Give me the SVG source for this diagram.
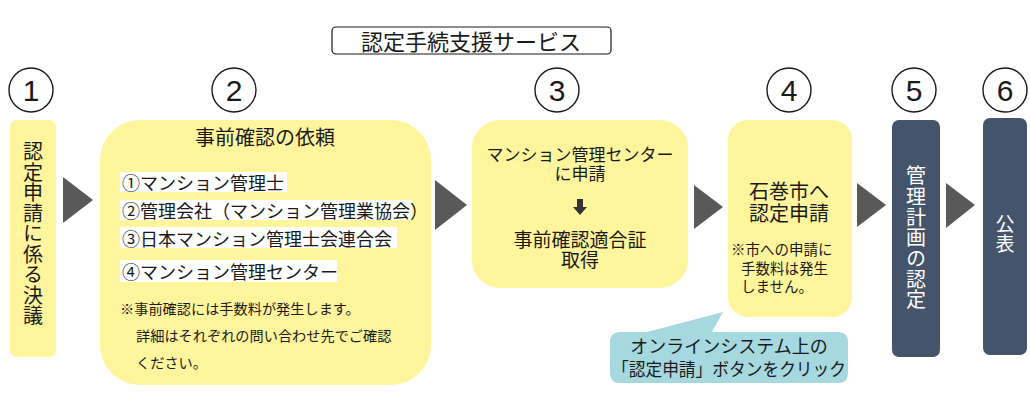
<svg xmlns="http://www.w3.org/2000/svg" width="1030" height="408" viewBox="0 0 1030 408">
<style>
text{font-family:"Noto Sans CJK JP","Noto Sans",sans-serif;fill:#1a1a1a}
.y{fill:#fff59d}
.d{fill:#44546a}
.w{fill:#ffffff}
.c{fill:#ffffff;stroke:#1a1a1a;stroke-width:1.4}
.n{font-family:"Liberation Sans",Arial,sans-serif;font-size:30px;text-anchor:middle;dominant-baseline:central}
.ar{fill:#595959}
.m{text-anchor:middle;dominant-baseline:central}
.v{writing-mode:vertical-rl;text-anchor:middle}
.wt{fill:#ffffff}
</style>
<rect width="1030" height="408" fill="#ffffff"/>
<g id="title">
<rect x="332" y="27" width="279" height="27" rx="4" fill="#ffffff" stroke="#1a1a1a" stroke-width="1.2"/>
<text x="471" y="40" class="m" font-size="22">認定手続支援サービス</text>
</g>
<g id="numbers">
<circle class="c" cx="31" cy="90" r="22"/><text class="n" x="31" y="90">1</text>
<circle class="c" cx="234" cy="90" r="22"/><text class="n" x="234" y="90">2</text>
<circle class="c" cx="557" cy="90" r="22"/><text class="n" x="557" y="90">3</text>
<circle class="c" cx="789" cy="90" r="22"/><text class="n" x="789" y="90">4</text>
<circle class="c" cx="914" cy="90" r="22"/><text class="n" x="914" y="90">5</text>
<circle class="c" cx="1005" cy="90" r="22"/><text class="n" x="1005" y="90">6</text>
</g>
<g id="step1">
<rect class="y" x="10" y="120" width="46" height="237" rx="7"/>
<text class="v" font-size="20" letter-spacing="0.5" x="33" y="234">認定申請に係る決議</text>
</g>
<g id="step2">
<rect class="y" x="100" y="120" width="331" height="265" rx="40"/>
<text class="m" x="265" y="136" font-size="20">事前確認の依頼</text>
<rect class="w" x="120" y="172" width="167" height="20"/>
<rect class="w" x="120" y="200" width="292" height="20"/>
<rect class="w" x="120" y="227" width="277" height="21"/>
<rect class="w" x="120" y="260" width="217" height="22"/>
<text font-size="18" x="122" y="182" dominant-baseline="central">①マンション管理士</text>
<text font-size="18" x="122" y="210" dominant-baseline="central">②管理会社（マンション管理業協会）</text>
<text font-size="18" x="122" y="237.5" dominant-baseline="central">③日本マンション管理士会連合会</text>
<text font-size="18" x="122" y="271" dominant-baseline="central">④マンション管理センター</text>
<text font-size="14.2" x="120" y="308" dominant-baseline="central">※事前確認には手数料が発生します。</text>
<text font-size="14.2" x="136" y="335" dominant-baseline="central">詳細はそれぞれの問い合わせ先でご確認</text>
<text font-size="14.2" x="136" y="362" dominant-baseline="central">ください。</text>
</g>
<g id="step3">
<rect class="y" x="472" y="120" width="216" height="168" rx="28"/>
<text class="m" x="580" y="153" font-size="17">マンション管理センター</text>
<text class="m" x="580" y="172" font-size="17">に申請</text>
<path d="M577,199 h6 v8 h4 l-7,8 l-7,-8 h4 z" fill="#333333"/>
<text class="m" x="580" y="238" font-size="19">事前確認適合証</text>
<text class="m" x="580" y="258" font-size="19">取得</text>
</g>
<g id="step4">
<rect class="y" x="728" y="120" width="124" height="197" rx="20"/>
<text class="m" x="789" y="190" font-size="20">石巻市へ</text>
<text class="m" x="789" y="212" font-size="20">認定申請</text>
<text font-size="14.5" x="731" y="248" dominant-baseline="central">※市への申請に</text>
<text font-size="14.5" x="741" y="267" dominant-baseline="central">手数料は発生</text>
<text font-size="14.5" x="741" y="285" dominant-baseline="central">しません。</text>
</g>
<g id="callout">
<path d="M620,332 H647 L723,312 L712,332 H838 Q848,332 848,342 V373 Q848,383 838,383 H620 Q610,383 610,373 V342 Q610,332 620,332 Z" fill="#a5d8df"/>
<text class="m" x="729" y="345" font-size="18">オンラインシステム上の</text>
<text class="m" x="729" y="368" font-size="18" textLength="234" lengthAdjust="spacingAndGlyphs">「認定申請」ボタンをクリック</text>
</g>
<g id="step5">
<rect class="d" x="892" y="120" width="48" height="237" rx="7"/>
<text class="v wt" font-size="20" letter-spacing="0.7" x="916" y="238">管理計画の認定</text>
</g>
<g id="step6">
<rect class="d" x="983" y="118" width="44" height="237" rx="7"/>
<text class="v wt" font-size="19" letter-spacing="0.5" x="1005" y="234">公表</text>
</g>
<g id="connectors">
<polygon class="ar" points="63,177 93,200 63,223"/>
<polygon class="ar" points="435,180 467,205 435,230"/>
<polygon class="ar" points="694,185 723,207 694,229"/>
<polygon class="ar" points="857,183 886,205 857,227"/>
<polygon class="ar" points="946,183 975,205 946,228"/>
</g>
</svg>
